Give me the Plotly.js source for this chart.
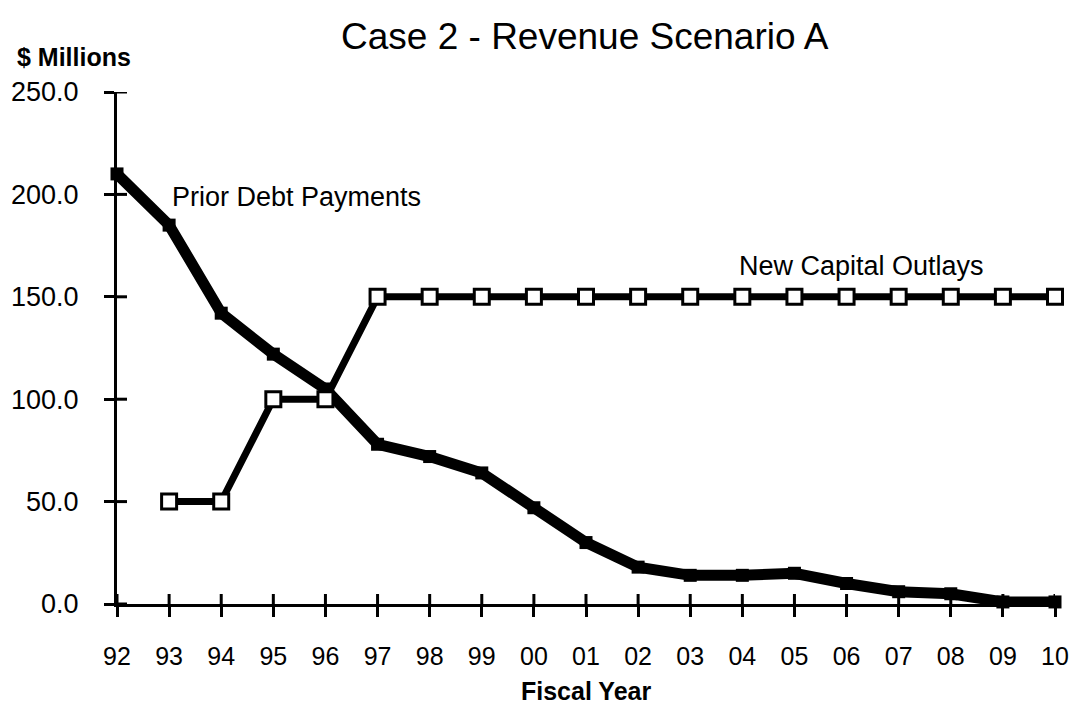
<!DOCTYPE html>
<html>
<head>
<meta charset="utf-8">
<script src="https://cdn.plot.ly/plotly-3.0.1.min.js"></script>
<style>
  html, body { margin: 0; padding: 0; background: #ffffff; }
  #chart { width: 1071px; height: 722px; }
</style>
</head>
<body>
<div id="chart"></div>
<script>
// ---- Data ----
const fiscalYears = ['92','93','94','95','96','97','98','99','00','01','02','03','04','05','06','07','08','09','10'];
const priorDebtPayments = [210, 185, 142, 122, 105, 78, 72, 64, 47, 30, 18, 14, 14, 15, 10, 6, 5, 1, 1];
const newCapitalYears = ['93','94','95','96','97','98','99','00','01','02','03','04','05','06','07','08','09','10'];
const newCapitalOutlays = [50, 50, 100, 100, 150, 150, 150, 150, 150, 150, 150, 150, 150, 150, 150, 150, 150, 150];
const yTickValues = [0, 50, 100, 150, 200, 250];
const yTickLabels = ['0.0', '50.0', '100.0', '150.0', '200.0', '250.0'];

const FONT = 'Liberation Sans, Arial, Helvetica, sans-serif';

const W = 1071, H = 722;
const M = { l: 117, r: 16, t: 92, b: 118 };
const TICK = 10;
const plotW = W - M.l - M.r, plotH = H - M.t - M.b;

const traces = [
  {
    x: fiscalYears, y: priorDebtPayments,
    type: 'scatter', mode: 'lines+markers',
    line: { color: '#000', width: 11 },
    marker: { symbol: 'square', size: 13, color: '#000' },
    cliponaxis: false, showlegend: false, hoverinfo: 'x+y'
  },
  {
    x: newCapitalYears, y: newCapitalOutlays,
    type: 'scatter', mode: 'lines+markers',
    line: { color: '#000', width: 7 },
    marker: { symbol: 'square', size: 15, color: '#fff', line: { color: '#000', width: 3 } },
    cliponaxis: false, showlegend: false, hoverinfo: 'x+y'
  }
];

// inner half of the crossing tick marks (outer half is drawn by the axes themselves)
const innerXTicks = fiscalYears.map(function (c, i) {
  return { type: 'line', xref: 'x', yref: 'paper', x0: i, x1: i, y0: 0, y1: TICK / plotH,
           line: { color: '#000', width: 3 }, layer: 'above' };
});
const innerYTicks = yTickValues.map(function (v) {
  return { type: 'line', xref: 'paper', yref: 'y', x0: 0, x1: TICK / plotW, y0: v, y1: v,
           line: { color: '#000', width: 3 }, layer: 'above' };
});

const layout = {
  width: W, height: H,
  margin: M,
  paper_bgcolor: '#ffffff', plot_bgcolor: '#ffffff',
  showlegend: false,
  font: { family: FONT, color: '#000' },
  title: {
    text: 'Case 2 - Revenue Scenario A',
    font: { family: FONT, size: 37, color: '#000' },
    x: 0.546, xanchor: 'center', xref: 'container',
    y: 0.95, yanchor: 'middle', yref: 'container'
  },
  xaxis: {
    type: 'category', categoryorder: 'array', categoryarray: fiscalYears,
    range: [0, 18], anchor: 'y',
    showgrid: false, zeroline: false,
    showline: true, linecolor: '#000', linewidth: 3,
    ticks: 'outside', ticklen: TICK, tickwidth: 3, tickcolor: '#000',
    tickfont: { family: FONT, size: 25, color: '#000' },
    ticklabelstandoff: 18
  },
  yaxis: {
    range: [0, 250], anchor: 'x',
    tickmode: 'array', tickvals: yTickValues, ticktext: yTickLabels,
    showgrid: false, zeroline: false,
    showline: true, linecolor: '#000', linewidth: 3,
    ticks: 'outside', ticklen: TICK, tickwidth: 3, tickcolor: '#000',
    tickfont: { family: FONT, size: 27, color: '#000' },
    ticklabelstandoff: 20
  },
  shapes: innerXTicks.concat(innerYTicks),
  annotations: [
    {
      text: '$ Millions', showarrow: false,
      xref: 'paper', yref: 'paper', x: -0.1087, y: 1.068,
      xanchor: 'left', yanchor: 'middle',
      font: { family: FONT, size: 25, color: '#000', weight: 'bold' }
    },
    {
      text: 'Prior Debt Payments', showarrow: false,
      xref: 'paper', yref: 'paper', x: 0.0565, y: 0.795,
      xanchor: 'left', yanchor: 'middle',
      font: { family: FONT, size: 27, color: '#000' }
    },
    {
      text: 'New Capital Outlays', showarrow: false,
      xref: 'paper', yref: 'paper', x: 0.661, y: 0.6605,
      xanchor: 'left', yanchor: 'middle',
      font: { family: FONT, size: 27, color: '#000' }
    },
    {
      text: 'Fiscal Year', showarrow: false,
      xref: 'paper', yref: 'paper', x: 0.5, y: -0.1707,
      xanchor: 'center', yanchor: 'middle',
      font: { family: FONT, size: 25, color: '#000', weight: 'bold' }
    }
  ]
};

Plotly.newPlot('chart', traces, layout, { displayModeBar: false });
</script>
</body>
</html>
